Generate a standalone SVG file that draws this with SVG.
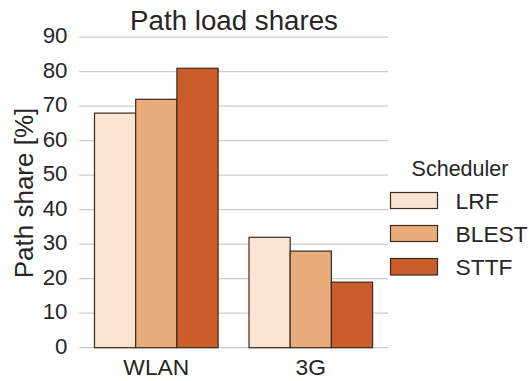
<svg xmlns="http://www.w3.org/2000/svg" width="529" height="381" viewBox="0 0 529 381">
<style>
text{font-family:"Liberation Sans",Arial,sans-serif;fill:#262626}
.grid line{stroke:#cccccc;stroke-width:1.3}
.tick{font-size:22.3px;text-anchor:end}
.xt{font-size:22.8px;text-anchor:middle}
.bar{stroke:#3a2a20;stroke-width:1.2}
.lrf{fill:#f9e4d3}
.blest{fill:#ebac7b}
.sttf{fill:#ca5d29}
.leg{font-size:22.8px}
</style>
<rect width="529" height="381" fill="#ffffff"/>
<g class="grid">
<line x1="79" y1="347.7" x2="388" y2="347.7"/>
<line x1="79" y1="313.2" x2="388" y2="313.2"/>
<line x1="79" y1="278.7" x2="388" y2="278.7"/>
<line x1="79" y1="244.2" x2="388" y2="244.2"/>
<line x1="79" y1="209.7" x2="388" y2="209.7"/>
<line x1="79" y1="175.2" x2="388" y2="175.2"/>
<line x1="79" y1="140.7" x2="388" y2="140.7"/>
<line x1="79" y1="106.2" x2="388" y2="106.2"/>
<line x1="79" y1="71.7" x2="388" y2="71.7"/>
<line x1="79" y1="37.2" x2="388" y2="37.2"/>
</g>
<g id="ticks-y">
<text class="tick" x="67.5" y="353.5">0</text>
<text class="tick" x="67.5" y="319">10</text>
<text class="tick" x="67.5" y="284.5">20</text>
<text class="tick" x="67.5" y="250">30</text>
<text class="tick" x="67.5" y="215.5">40</text>
<text class="tick" x="67.5" y="181">50</text>
<text class="tick" x="67.5" y="146.5">60</text>
<text class="tick" x="67.5" y="112">70</text>
<text class="tick" x="67.5" y="77.5">80</text>
<text class="tick" x="67.5" y="43">90</text>
</g>
<g id="bars-wlan">
<rect class="bar lrf" x="94.5" y="113.1" width="41.2" height="234.6"/>
<rect class="bar blest" x="135.7" y="99.3" width="41.2" height="248.4"/>
<rect class="bar sttf" x="176.9" y="68.25" width="41.2" height="279.45"/>
</g>
<g id="bars-3g">
<rect class="bar lrf" x="249" y="237.3" width="41.2" height="110.4"/>
<rect class="bar blest" x="290.2" y="251.1" width="41.2" height="96.6"/>
<rect class="bar sttf" x="331.4" y="282.15" width="41.2" height="65.55"/>
</g>
<g id="ticks-x">
<text class="xt" x="156.3" y="375">WLAN</text>
<text class="xt" x="310.8" y="375">3G</text>
</g>
<text id="title" x="234" y="30" font-size="27.7" text-anchor="middle">Path load shares</text>
<text id="ylabel" transform="translate(33,193) rotate(-90)" font-size="26" text-anchor="middle">Path share [%]</text>
<g id="legend">
<text x="460" y="176" font-size="21.5" text-anchor="middle">Scheduler</text>
<rect class="bar lrf" x="390.5" y="192.5" width="47" height="16"/>
<rect class="bar blest" x="390.5" y="225.5" width="47" height="16"/>
<rect class="bar sttf" x="390.5" y="258.5" width="47" height="16.5"/>
<text class="leg" x="455.5" y="209">LRF</text>
<text class="leg" x="455.5" y="242">BLEST</text>
<text class="leg" x="455.5" y="275">STTF</text>
</g>
</svg>
